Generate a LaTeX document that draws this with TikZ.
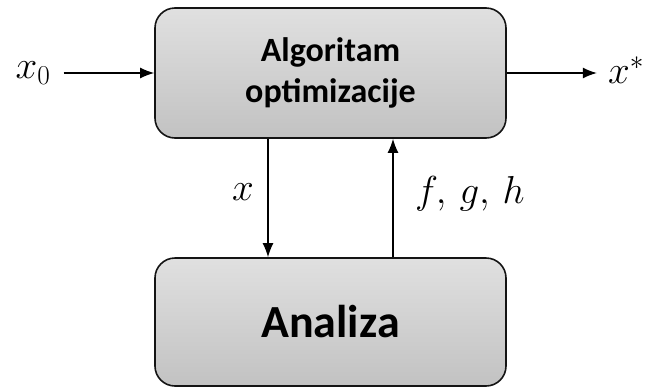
\RequirePackage{fix-cm}
\documentclass[tikz,border=0pt]{standalone}
\usepackage{fontspec}
\setsansfont{Carlito}
\usepackage{xcolor}
\usepackage{tikz}
\usetikzlibrary{arrows.meta, positioning}
\definecolor{BoxTop}{RGB}{224, 224, 224}
\definecolor{BoxBottom}{RGB}{194, 194, 194}
\definecolor{BoxLine}{RGB}{20, 20, 20}

\begin{document}
\begin{tikzpicture}[x=1pt, y=-1pt,
    blok/.style={rounded corners=20pt, top color=BoxTop, bottom color=BoxBottom, draw=BoxLine,
                 line width=1.6pt, minimum width=351pt, align=center, font=\sffamily\bfseries},
    tok/.style={line width=1.4pt, -{Latex[length=14pt, width=11pt]}},
    oznaka/.style={inner sep=0pt, font=\fontsize{39}{45}\selectfont}]
    \useasboundingbox (0,0) rectangle (648,389);
    % blokovi
    \node[blok, minimum height=130pt, font=\sffamily\bfseries\fontsize{34}{41}\selectfont] (alg) at (330.5,73)
      {Algoritam\\optimizacije};
    \node[blok, minimum height=128pt, font=\sffamily\bfseries\fontsize{46}{52}\selectfont] (ana) at (330.5,322)
      {Analiza};
    % ulaz i izlaz
    \node[oznaka] (ulaz) at (33,73) {$x_0$};
    \node[oznaka] (izlaz) at (626,70) {$x^{*}$};
    \draw[tok] ([xshift=13pt]ulaz.east |- alg.west) -- (alg.west);
    \draw[tok] (alg.east) -- ([xshift=-11pt]izlaz.west |- alg.east);
    % povratna veza
    \draw[tok] ([xshift=-62.5pt]alg.south) -- ([xshift=-62.5pt]ana.north);
    \draw[tok] ([xshift=62.5pt]ana.north) -- ([xshift=62.5pt]alg.south);
    \node[oznaka] (xlab) at (243,192) {$x$};
    \node[oznaka] (fgh) at (470,194) {$f,\,g,\,h$};
  \end{tikzpicture}
\end{document}
